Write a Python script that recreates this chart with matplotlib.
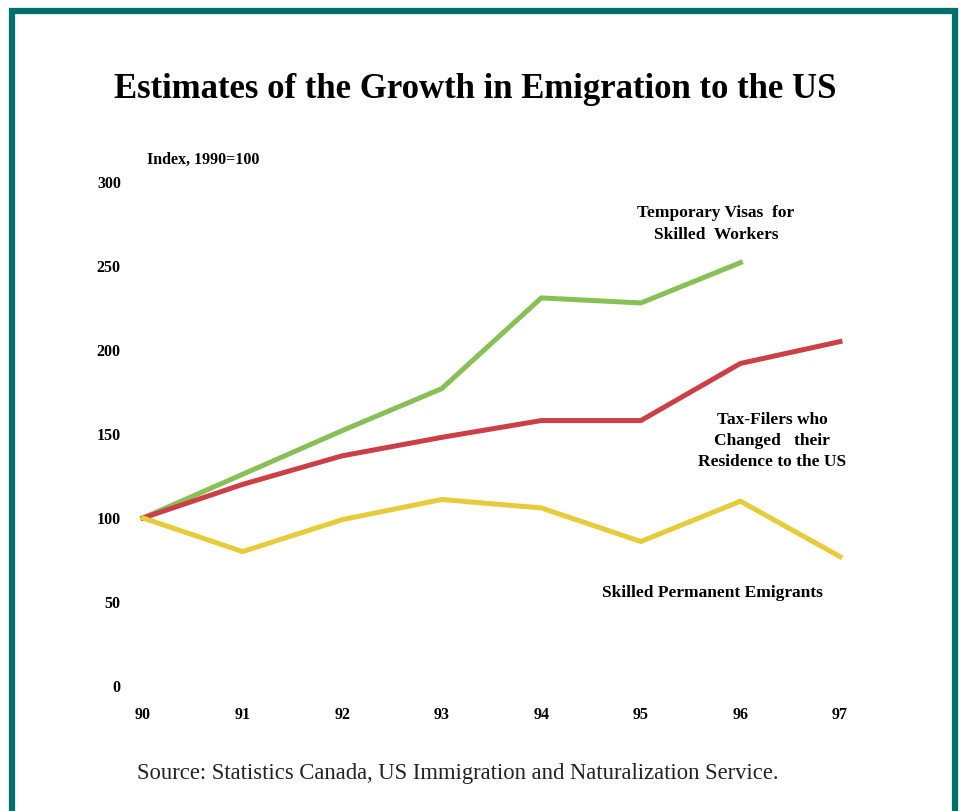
import matplotlib.pyplot as plt
from matplotlib.patches import Rectangle

# ==============================
# Data (index, 1990=100)
# ==============================

years = [90, 91, 92, 93, 94, 95, 96, 97]
year_labels = ["90", "91", "92", "93", "94", "95", "96", "97"]

temp_visas = [100, 126, 152, 177, 231, 228, 252]          # ends in 96
tax_filers = [100, 120, 137, 148, 158, 158, 192, 205]
permanent = [100, 80, 99, 111, 106, 86, 110, 77]

y_ticks = [0, 50, 100, 150, 200, 250, 300]

GREEN = "#88c057"
RED = "#cc3f47"
YELLOW = "#e6cc3a"
TEAL = "#00706e"

plt.rcParams["font.family"] = ["Liberation Serif", "DejaVu Serif"]

W, H = 962, 811
fig = plt.figure(figsize=(W / 100, H / 100), dpi=100)

# frame round the whole picture (bottom edge is cut off)
fig.patches.append(Rectangle((12 / W, -0.05), (955 - 12) / W, (H - 10) / H + 0.05 - 1 / H,
                             transform=fig.transFigure, fill=False,
                             edgecolor=TEAL, linewidth=4.5))

x0, x1 = 143, 840
y0, y1 = 686, 182
ax = fig.add_axes([x0 / W, (H - y0) / H, (x1 - x0) / W, (y0 - y1) / H])

lw = 3.6
ax.plot(years[:len(temp_visas)], temp_visas, color=GREEN, lw=lw, solid_joinstyle="miter", clip_on=False)
ax.plot(years, tax_filers, color=RED, lw=lw, solid_joinstyle="miter", clip_on=False)
ax.plot(years, permanent, color=YELLOW, lw=lw, solid_joinstyle="miter", clip_on=False)

ax.set_xlim(90, 97)
ax.set_ylim(0, 300)
for s in ax.spines.values():
    s.set_visible(False)
ax.tick_params(length=0)

ax.set_yticks(y_ticks)
ax.set_yticklabels([str(v) for v in y_ticks], fontsize=11.5, fontweight="bold")
ax.tick_params(axis="y", pad=16)
ax.set_xticks(years)
ax.set_xticklabels(year_labels, fontsize=11.5, fontweight="bold")
ax.tick_params(axis="x", pad=15)

# texts
fig.text(475 / W, 1 - 90 / H, "Estimates of the Growth in Emigration to the US",
         ha="center", va="center", fontsize=25, fontweight="bold")
fig.text(147 / W, 1 - 160 / H, "Index, 1990=100", ha="left", va="center",
         fontsize=11.5, fontweight="bold")

lab = dict(ha="center", va="center", fontsize=12.5, fontweight="bold")
fig.text(716 / W, 1 - 224 / H, "Temporary Visas  for\nSkilled  Workers", linespacing=1.55, **lab)
fig.text(772 / W, 1 - 441 / H, "Tax-Filers who\nChanged   their\nResidence to the US", linespacing=1.4, **lab)
fig.text(712 / W, 1 - 593 / H, "Skilled Permanent Emigrants", **lab)

fig.text(137 / W, 1 - 773 / H,
         "Source: Statistics Canada, US Immigration and Naturalization Service.",
         ha="left", va="center", fontsize=16.3, color="#222222")

fig.savefig("out.png", dpi=100)
